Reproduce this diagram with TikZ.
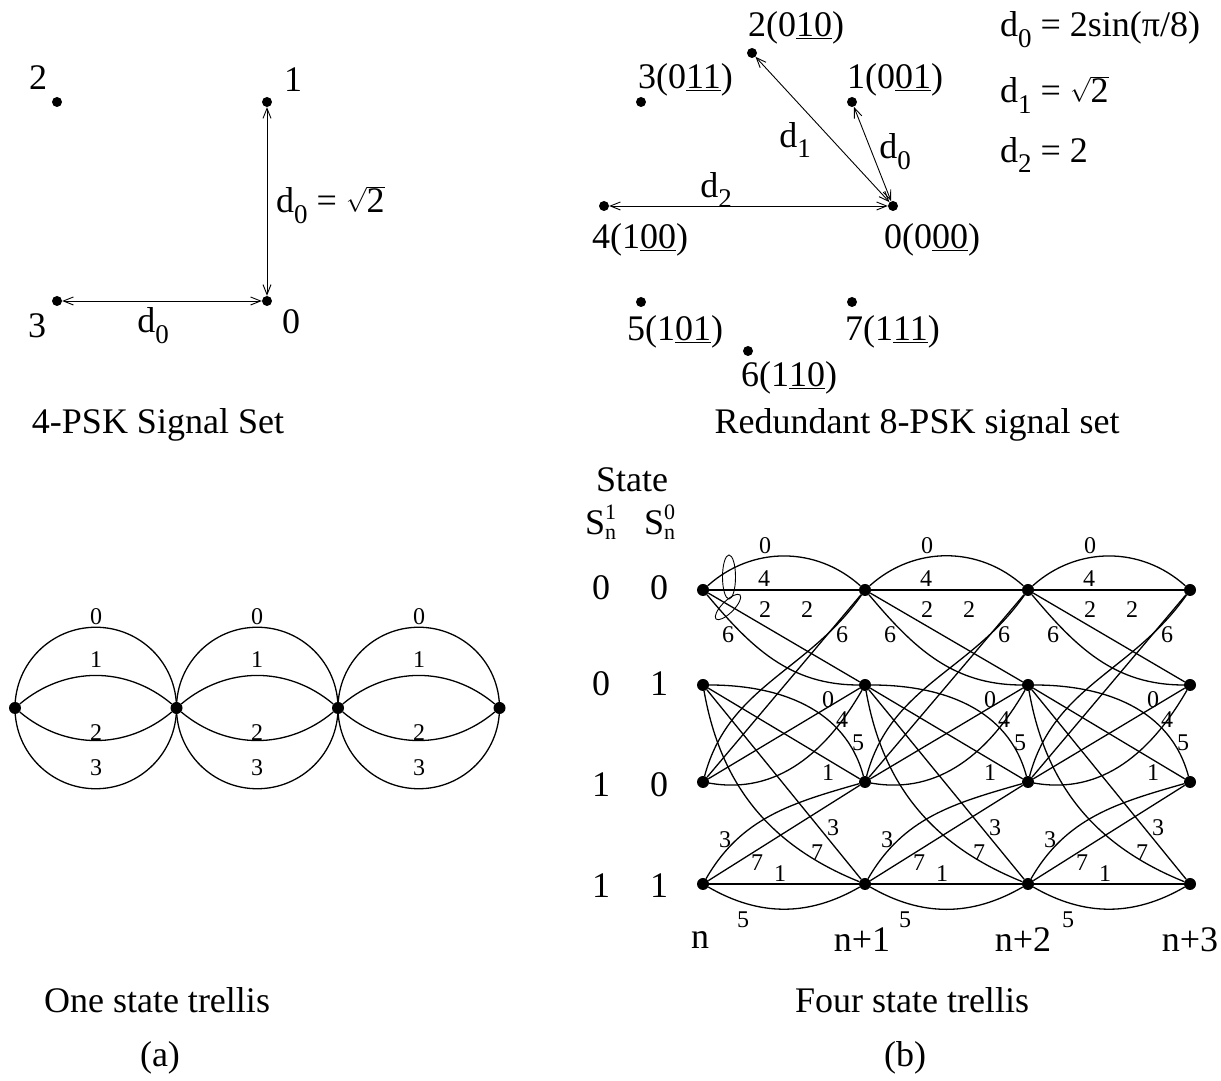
\documentclass[tikz,border=0pt]{standalone}
\usepackage{fontspec}
\setmainfont{Liberation Serif}
\usetikzlibrary{arrows.meta}

\begin{document}
\begin{tikzpicture}[
    x=1pt, y=1pt,
    dot/.style={circle, fill=black, inner sep=0pt, minimum size=10pt},
    bigdot/.style={dot, minimum size=12pt},
    bigtext/.style={inner sep=0pt, font=\fontsize{36}{40}\selectfont},
    lab/.style={inner sep=0pt, font=\fontsize{24}{26}\selectfont},
    distarrow/.style={{Straight Barb[length=10pt,width=8pt]}-{Straight Barb[length=10pt,width=8pt]},
                      line width=0.9pt},
    branch/.style={line width=1.3pt},
  ]

  \def\dsub#1#2{#1\raisebox{-0.3em}{\fontsize{27}{27}\selectfont #2}}
  \def\smallfs{\fontsize{22}{24}\selectfont}
  \def\Sstate#1{S\hbox{\smallfs\rlap{\raisebox{15pt}{#1}}\raisebox{-5pt}{n}}}

  \useasboundingbox (0,0) rectangle (1221,1081);

  % ---------- 4-PSK signal set -------------------------------------------
  \node[dot] (q0) at (267,780) {};
  \node[dot] (q1) at (267,979) {};
  \node[dot] (q2) at (57,979)  {};
  \node[dot] (q3) at (57,780)  {};
  \node[bigtext] (q0lab) at (291,759)  {0};
  \node[bigtext] (q1lab) at (293,1001) {1};
  \node[bigtext] (q2lab) at (38,1003)  {2};
  \node[bigtext] (q3lab) at (37,755)   {3};

  \draw[distarrow] (q1) -- (q0);
  \draw[distarrow] (q3) -- (q0);
  \node[bigtext, anchor=west] (qd1) at (276,876) {\dsub{d}{0} = $\sqrt{\mbox{2}}$};
  \node[bigtext] (qd0) at (153,755) {\dsub{d}{0}};

  \node[bigtext] (qcap) at (158,656) {4-PSK Signal Set};

  % ---------- redundant 8-PSK signal set ---------------------------------
  \node[dot] (p0) at (893,875)  {};
  \node[dot] (p1) at (852,979)  {};
  \node[dot] (p2) at (752,1028) {};
  \node[dot] (p3) at (641,979)  {};
  \node[dot] (p4) at (604,875)  {};
  \node[dot] (p5) at (641,779)  {};
  \node[dot] (p6) at (748,730)  {};
  \node[dot] (p7) at (852,779)  {};

  \node[bigtext, anchor=west] (p2lab) at (748,1053) {2(0\underline{10})};
  \node[bigtext, anchor=west] (p3lab) at (638,1001) {3(0\underline{11})};
  \node[bigtext, anchor=west] (p1lab) at (847,1001) {1(0\underline{01})};
  \node[bigtext, anchor=west] (p4lab) at (592,841)  {4(1\underline{00})};
  \node[bigtext, anchor=west] (p0lab) at (884,841)  {0(0\underline{00})};
  \node[bigtext, anchor=west] (p5lab) at (627,749)  {5(1\underline{01})};
  \node[bigtext, anchor=west] (p7lab) at (845,749)  {7(1\underline{11})};
  \node[bigtext, anchor=west] (p6lab) at (741,703)  {6(1\underline{10})};

  \draw[distarrow] (p4) -- (p0);
  \draw[distarrow] (p2) -- (p0);
  \draw[distarrow] (p1) -- (p0);
  \node[bigtext] (pd2) at (716,891) {\dsub{d}{2}};
  \node[bigtext] (pd1) at (795,941) {\dsub{d}{1}};
  \node[bigtext] (pd0) at (895,929) {\dsub{d}{0}};

  \node[bigtext, anchor=west] (eqd0) at (1000,1051) {\dsub{d}{0} = 2sin(π/8)};
  \node[bigtext, anchor=west] (eqd1) at (1000,986)  {\dsub{d}{1} = $\sqrt{\mbox{2}}$};
  \node[bigtext, anchor=west] (eqd2) at (1000,926)  {\dsub{d}{2} = 2};

  \node[bigtext] (pcap) at (917,656) {Redundant 8-PSK signal set};

  % ---------- one state trellis ------------------------------------------
  \foreach \k/\x in {0/15,1/176.5,2/338,3/499.5}
    \node[bigdot] (u\k) at (\x,373) {};
  \foreach \k/\n/\x in {0/1/96,1/2/257,2/3/419} {
    \draw[branch] (u\k.center) arc[start angle=180, end angle=0, radius=80.75];
    \draw[branch] (u\k) to[bend left=40] (u\n);
    \draw[branch] (u\k) to[bend right=40] (u\n);
    \draw[branch] (u\k.center) arc[start angle=180, end angle=360, radius=80.75];
    \node[lab] (ua\k) at (\x,464) {0};
    \node[lab] (ub\k) at (\x,421) {1};
    \node[lab] (uc\k) at (\x,348) {2};
    \node[lab] (ud\k) at (\x,313) {3};
  }
  \node[bigtext] (acap) at (157,81) {One state trellis};
  \node[bigtext] (alab) at (160,23) {(a)};

  % ---------- four state trellis -----------------------------------------
  \node[bigtext] (statelab) at (632,601) {State};
  \node[bigtext, anchor=base west] (s1lab) at (585,546) {\Sstate{1}};
  \node[bigtext, anchor=base west] (s0lab) at (644,546) {\Sstate{0}};
  \foreach \s/\a/\b/\y in {00/0/0/493,01/0/1/397,10/1/0/296,11/1/1/195} {
    \node[bigtext] (r\s a) at (601,\y) {\a};
    \node[bigtext] (r\s b) at (659,\y) {\b};
  }

  \foreach \c/\x in {0/703,1/865,2/1028,3/1190}
    \foreach \s/\y in {00/491,01/396,10/299,11/197}
      \node[bigdot] (c\c s\s) at (\x,\y) {};

  \foreach \c/\n/\x in {0/1/703,1/2/865,2/3/1028} {
    \draw[branch] (c\c s00) to[bend left=42] (c\n s00);
    \draw[branch] (c\c s00) -- (c\n s00);
    \draw[branch] (c\c s00) -- (c\n s01);
    \draw[branch] (c\c s00) to[out=-50,in=180] (c\n s01);
    \draw[branch] (c\c s10) -- (c\n s00);
    \draw[branch] (c\c s10) to[out=75,in=-125] (c\n s00);
    \draw[branch] (c\c s01) -- (c\n s10);
    \draw[branch] (c\c s01) to[out=0,in=105] (c\n s10);
    \draw[branch] (c\c s01) -- (c\n s11);
    \draw[branch] (c\c s01) to[out=-80,in=158] (c\n s11);
    \draw[branch] (c\c s10) -- (c\n s01);
    \draw[branch] (c\c s10) to[out=-10,in=-120] (c\n s01);
    \draw[branch] (c\c s11) -- (c\n s10);
    \draw[branch] (c\c s11) to[out=60,in=-164] (c\n s10);
    \draw[branch] (c\c s11) -- (c\n s11);
    \draw[branch] (c\c s11) to[bend right=30] (c\n s11);

    \node[lab] (w\c-a) at ({\x+62},535)  {0};
    \node[lab] (w\c-b) at ({\x+61},502)  {4};
    \node[lab] (w\c-c) at ({\x+62},471)  {2};
    \node[lab] (w\c-d) at ({\x+104},471) {2};
    \node[lab] (w\c-e) at ({\x+25},446)  {6};
    \node[lab] (w\c-f) at ({\x+139},446) {6};
    \node[lab] (w\c-g) at ({\x+125},381) {0};
    \node[lab] (w\c-h) at ({\x+139},361) {4};
    \node[lab] (w\c-i) at ({\x+155},338) {5};
    \node[lab] (w\c-j) at ({\x+125},308) {1};
    \node[lab] (w\c-k) at ({\x+130},253) {3};
    \node[lab] (w\c-l) at ({\x+114},228) {7};
    \node[lab] (w\c-m) at ({\x+22},241)  {3};
    \node[lab] (w\c-n) at ({\x+54},218)  {7};
    \node[lab] (w\c-o) at ({\x+77},207)  {1};
    \node[lab] (w\c-p) at ({\x+40},161)  {5};
  }

  % parallel transitions grouped
  \draw[line width=0.9pt] (729,504) ellipse (6.5 and 22);
  \draw[line width=0.9pt, rotate around={45:(728,474)}] (728,474) ellipse (17 and 6);

  \node[bigtext] (tn0) at (700,141)  {n};
  \node[bigtext] (tn1) at (862,141)  {n+1};
  \node[bigtext] (tn2) at (1023,141) {n+2};
  \node[bigtext] (tn3) at (1190,141) {n+3};

  \node[bigtext] (bcap) at (912,81) {Four state trellis};
  \node[bigtext] (blab) at (905,23) {(b)};

\end{tikzpicture}
\end{document}
